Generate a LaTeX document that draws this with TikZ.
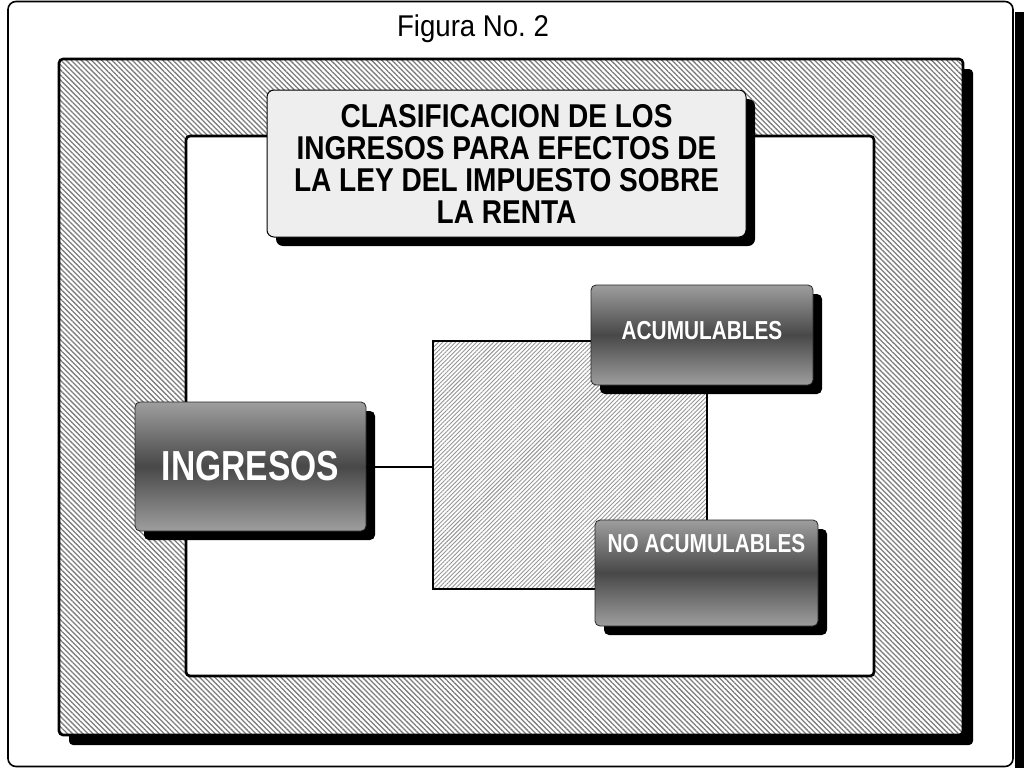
\documentclass[tikz,border=0pt]{standalone}
\usepackage{fontspec}
\setmainfont{Liberation Sans}
\newfontfamily\narrowfont[FakeStretch=0.8]{Liberation Sans}
\newfontfamily\titlefont[FakeStretch=0.85]{Liberation Sans}
\newfontfamily\figfont[FakeStretch=0.92]{Liberation Sans}
\usetikzlibrary{patterns.meta,shadows}
\definecolor{boxlight}{RGB}{158,158,158}
\definecolor{boxdark}{RGB}{72,72,72}
\definecolor{titlefill}{RGB}{238,238,238}
\definecolor{hatchA}{RGB}{125,125,125}
\definecolor{hatchB}{RGB}{150,150,150}
\begin{document}
\begin{tikzpicture}[x=1pt,y=-1pt,
  darkbox/.style={rectangle, rounded corners=5pt, draw=black!85, line width=0.8pt,
    top color=boxlight, bottom color=boxlight, middle color=boxdark,
    text=white, font=\narrowfont\bfseries, inner sep=0pt, outer sep=0pt,
    anchor=north west,
    general shadow={fill=black, shadow xshift=9pt, shadow yshift=-9pt}},
  titlebox/.style={rectangle, rounded corners=7pt, draw=black, line width=1pt,
    fill=titlefill, text=black, align=center, inner sep=0pt, outer sep=0pt,
    font=\titlefont\bfseries\fontsize{33}{32}\selectfont,
    general shadow={fill=black, shadow xshift=9pt, shadow yshift=-9pt}},
  framehatch/.style={preaction={fill=white},
    pattern={Lines[angle=-45,distance=3.6pt,line width=1.3pt]}, pattern color=hatchA},
  midhatch/.style={preaction={fill=white},
    pattern={Lines[angle=45,distance=3pt,line width=0.9pt]}, pattern color=hatchB},
  frameline/.style={draw=black, line width=2.6pt, rounded corners=4pt},
  connector/.style={draw=black, line width=2pt}
]
\useasboundingbox (0,0) rectangle (1024,768);
% page border with shadow
\fill[black] (1015,12) rectangle (1024,768);
\draw[line width=1.6pt, rounded corners=8pt, fill=white] (8,1.5) rectangle (1013,766.5);
% outer hatched frame with shadow
\fill[black, rounded corners=4pt] (69,69) rectangle (973,745);
\path[framehatch, frameline] (59,59) rectangle (963,735);
% inner white area
\draw[frameline, fill=white] (186,136) rectangle (874,676);
% middle hatched panel
\path[midhatch, draw=black, line width=2pt] (433,341) rectangle (707,589);
\coordinate (midW) at (433,465);
% title
\node at (473,37) [anchor=base, font=\figfont\fontsize{30}{34}\selectfont] (fig) {Figura No.~2};
\node[titlebox, minimum width=479pt, minimum height=147pt] (title) at (506.5,163.5)
  {CLASIFICACION DE LOS\\INGRESOS PARA EFECTOS DE\\LA LEY DEL IMPUESTO SOBRE\\LA RENTA};
% boxes
\node[darkbox, minimum width=231pt, minimum height=129pt,
  font=\narrowfont\bfseries\fontsize{42}{46}\selectfont] (ing) at (135,402) {INGRESOS};
\node[darkbox, minimum width=222pt, text height=54pt, text depth=46pt,
  font=\narrowfont\bfseries\fontsize{26}{30}\selectfont] (acu) at (591,285) {ACUMULABLES};
\node[darkbox, minimum width=223pt, text height=32pt, text depth=74pt,
  font=\narrowfont\bfseries\fontsize{26}{30}\selectfont] (noacu) at (595,520) {NO ACUMULABLES};
% connector
\draw[connector] (ing.east) -- (ing.east -| midW);
\end{tikzpicture}
\end{document}
